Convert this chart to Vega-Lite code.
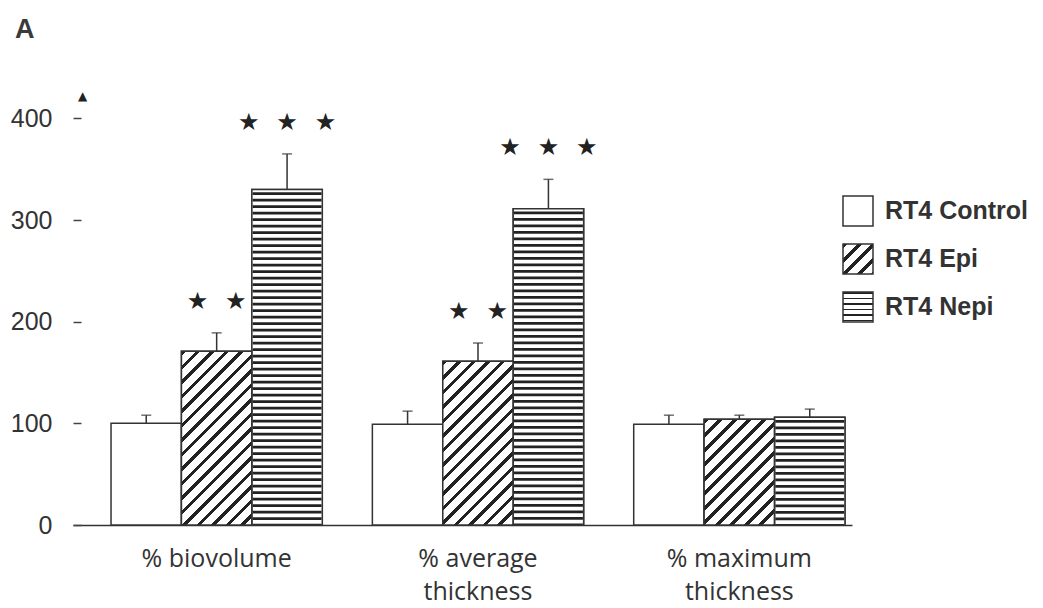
{
  "$schema": "https://vega.github.io/schema/vega-lite/v6.json",
  "autosize": {"type": "none"},
  "padding": {"left": 73, "top": 98, "right": 191, "bottom": 83},
  "width": 779,
  "height": 427,
  "background": "white",
  "title": {"text": "A", "anchor": "start", "frame": "group", "dx": -58, "dy": 5, "offset": 50, "fontSize": 27, "font": "Liberation Sans", "fontWeight": "bold", "color": "#3a3a3a"},
  "params": [
    {"name": "hatch", "value": [
      {"offset": 0, "color": "#222"}, {"offset": 0.016, "color": "#222"}, {"offset": 0.016, "color": "#fff"}, {"offset": 0.05, "color": "#fff"},
      {"offset": 0.05, "color": "#222"}, {"offset": 0.066, "color": "#222"}, {"offset": 0.066, "color": "#fff"}, {"offset": 0.1, "color": "#fff"},
      {"offset": 0.1, "color": "#222"}, {"offset": 0.116, "color": "#222"}, {"offset": 0.116, "color": "#fff"}, {"offset": 0.15, "color": "#fff"},
      {"offset": 0.15, "color": "#222"}, {"offset": 0.166, "color": "#222"}, {"offset": 0.166, "color": "#fff"}, {"offset": 0.2, "color": "#fff"},
      {"offset": 0.2, "color": "#222"}, {"offset": 0.216, "color": "#222"}, {"offset": 0.216, "color": "#fff"}, {"offset": 0.25, "color": "#fff"},
      {"offset": 0.25, "color": "#222"}, {"offset": 0.266, "color": "#222"}, {"offset": 0.266, "color": "#fff"}, {"offset": 0.3, "color": "#fff"},
      {"offset": 0.3, "color": "#222"}, {"offset": 0.316, "color": "#222"}, {"offset": 0.316, "color": "#fff"}, {"offset": 0.35, "color": "#fff"},
      {"offset": 0.35, "color": "#222"}, {"offset": 0.366, "color": "#222"}, {"offset": 0.366, "color": "#fff"}, {"offset": 0.4, "color": "#fff"},
      {"offset": 0.4, "color": "#222"}, {"offset": 0.416, "color": "#222"}, {"offset": 0.416, "color": "#fff"}, {"offset": 0.45, "color": "#fff"},
      {"offset": 0.45, "color": "#222"}, {"offset": 0.466, "color": "#222"}, {"offset": 0.466, "color": "#fff"}, {"offset": 0.5, "color": "#fff"},
      {"offset": 0.5, "color": "#222"}, {"offset": 0.516, "color": "#222"}, {"offset": 0.516, "color": "#fff"}, {"offset": 0.55, "color": "#fff"},
      {"offset": 0.55, "color": "#222"}, {"offset": 0.566, "color": "#222"}, {"offset": 0.566, "color": "#fff"}, {"offset": 0.6, "color": "#fff"},
      {"offset": 0.6, "color": "#222"}, {"offset": 0.616, "color": "#222"}, {"offset": 0.616, "color": "#fff"}, {"offset": 0.65, "color": "#fff"},
      {"offset": 0.65, "color": "#222"}, {"offset": 0.666, "color": "#222"}, {"offset": 0.666, "color": "#fff"}, {"offset": 0.7, "color": "#fff"},
      {"offset": 0.7, "color": "#222"}, {"offset": 0.716, "color": "#222"}, {"offset": 0.716, "color": "#fff"}, {"offset": 0.75, "color": "#fff"},
      {"offset": 0.75, "color": "#222"}, {"offset": 0.766, "color": "#222"}, {"offset": 0.766, "color": "#fff"}, {"offset": 0.8, "color": "#fff"},
      {"offset": 0.8, "color": "#222"}, {"offset": 0.816, "color": "#222"}, {"offset": 0.816, "color": "#fff"}, {"offset": 0.85, "color": "#fff"},
      {"offset": 0.85, "color": "#222"}, {"offset": 0.866, "color": "#222"}, {"offset": 0.866, "color": "#fff"}, {"offset": 0.9, "color": "#fff"},
      {"offset": 0.9, "color": "#222"}, {"offset": 0.916, "color": "#222"}, {"offset": 0.916, "color": "#fff"}, {"offset": 0.95, "color": "#fff"},
      {"offset": 0.95, "color": "#222"}, {"offset": 0.966, "color": "#222"}, {"offset": 0.966, "color": "#fff"}, {"offset": 1, "color": "#fff"}
    ]}
  ],
  "data": {"values": [
    {"group": "% biovolume", "series": "RT4 Control", "value": 100, "upper": 108, "sig": ""},
    {"group": "% biovolume", "series": "RT4 Epi", "value": 171, "upper": 189, "sig": "★\u2002\u2009★"},
    {"group": "% biovolume", "series": "RT4 Nepi", "value": 330, "upper": 365, "sig": "★\u2002\u2009★\u2002\u2009★"},
    {"group": "% average\nthickness", "series": "RT4 Control", "value": 99, "upper": 112, "sig": ""},
    {"group": "% average\nthickness", "series": "RT4 Epi", "value": 161, "upper": 179, "sig": "★\u2002\u2009★"},
    {"group": "% average\nthickness", "series": "RT4 Nepi", "value": 311, "upper": 340, "sig": "★\u2002\u2009★\u2002\u2009★"},
    {"group": "% maximum\nthickness", "series": "RT4 Control", "value": 99, "upper": 108, "sig": ""},
    {"group": "% maximum\nthickness", "series": "RT4 Epi", "value": 104, "upper": 108, "sig": ""},
    {"group": "% maximum\nthickness", "series": "RT4 Nepi", "value": 106, "upper": 114, "sig": ""}
  ]},
  "encoding": {
    "x": {
      "field": "group", "type": "nominal", "sort": null,
      "scale": {"paddingInner": 0.1916, "paddingOuter": 0.0862, "align": 0.844},
      "axis": {"title": null, "labelAngle": 0, "ticks": false, "domainColor": "#333", "domainWidth": 1.5, "labelFont": "Open Sans", "labelFontSize": 25, "labelColor": "#333", "labelPadding": 21, "labelLineHeight": 33, "labelLimit": 400, "labelBaseline": "top", "labelExpr": "split(datum.label, '\\n')"}
    },
    "xOffset": {"field": "series", "type": "nominal", "sort": null, "scale": {"paddingInner": 0, "paddingOuter": 0}},
    "y": {
      "field": "value", "type": "quantitative",
      "scale": {"domain": [0, 420], "nice": false, "zero": true},
      "axis": {"values": [0, 100, 200, 300, 400], "domain": false, "grid": false, "tickSize": 8, "tickColor": "#444", "tickWidth": 1.5, "offset": -8, "labelPadding": 21, "labelFont": "Liberation Sans", "labelFontSize": 25, "labelColor": "#333", "title": "▲", "titleAngle": 0, "titleX": 1, "titleY": -3, "titleFontSize": 12, "titleColor": "#222", "titleAlign": "center", "titleBaseline": "middle", "titleFont": "DejaVu Sans"}
    }
  },
  "layer": [
    {
      "mark": {"type": "bar", "stroke": "#333", "strokeWidth": 1.5},
      "encoding": {
        "fill": {
          "field": "series", "type": "nominal", "sort": null,
          "scale": {
            "domain": ["RT4 Control", "RT4 Epi", "RT4 Nepi"],
            "range": ["#ffffff", {"expr": "{gradient:'linear',x1:0,y1:0,x2:4.833,y2:4.833,stops:hatch}"}, {"expr": "{gradient:'linear',x1:0,y1:0,x2:0,y2:3.67,stops:hatch}"}]
          },
          "legend": {"title": null, "orient": "none", "legendX": 769, "legendY": 97, "padding": 0, "symbolType": "square", "symbolSize": 900, "symbolStrokeColor": "#333", "symbolStrokeWidth": 1.5, "symbolOpacity": 1, "labelFont": "Liberation Sans", "labelFontSize": 25, "labelFontWeight": "bold", "labelColor": "#333", "labelOffset": 11, "labelLimit": 400, "rowPadding": 12}
        }
      }
    },
    {
      "transform": [{"filter": "datum.series == 'RT4 Nepi'"}],
      "mark": {"type": "bar", "fill": "#ffffff"}
    },
    {
      "transform": [{"filter": "datum.series == 'RT4 Nepi'"}],
      "mark": {"type": "rule", "strokeWidth": 69, "strokeDash": [2.7, 3.8], "strokeDashOffset": 3.8, "color": "#222", "strokeCap": "butt"},
      "encoding": {"y2": {"datum": 0}}
    },
    {
      "transform": [{"filter": "datum.series == 'RT4 Epi' && datum.group == '% biovolume'"}],
      "mark": {"type": "bar", "stroke": "#333", "strokeWidth": 1.5, "fill": {"expr": "{gradient:'linear',x1:0,y1:0,x2:0.5805,y2:1.4331,stops:hatch}"}}
    },
    {
      "transform": [{"filter": "datum.series == 'RT4 Epi' && indexof(datum.group, 'average') >= 0"}],
      "mark": {"type": "bar", "stroke": "#333", "strokeWidth": 1.5, "fill": {"expr": "{gradient:'linear',x1:0,y1:0,x2:0.6433,y2:1.4951,stops:hatch}"}}
    },
    {
      "transform": [{"filter": "datum.series == 'RT4 Epi' && indexof(datum.group, 'maximum') >= 0"}],
      "mark": {"type": "bar", "stroke": "#333", "strokeWidth": 1.5, "fill": {"expr": "{gradient:'linear',x1:0,y1:0,x2:1.2657,y2:1.9003,stops:hatch}"}}
    },
    {
      "transform": [{"filter": "datum.series == 'RT4 Nepi'"}],
      "mark": {"type": "bar", "fillOpacity": 0, "stroke": "#333", "strokeWidth": 1.5}
    },
    {
      "mark": {"type": "rule", "color": "#333", "strokeWidth": 1.5},
      "encoding": {"y": {"field": "upper", "type": "quantitative"}, "y2": {"field": "value"}}
    },
    {
      "mark": {"type": "tick", "color": "#333", "thickness": 1.5, "size": 10, "orient": "horizontal"},
      "encoding": {"y": {"field": "upper", "type": "quantitative"}}
    },
    {
      "mark": {"type": "text", "dy": -31, "font": "DejaVu Sans", "fontSize": 24, "color": "#222", "baseline": "middle"},
      "encoding": {"y": {"field": "upper", "type": "quantitative"}, "text": {"field": "sig"}}
    }
  ],
  "config": {"view": {"stroke": null}, "axis": {"grid": false}}
}
